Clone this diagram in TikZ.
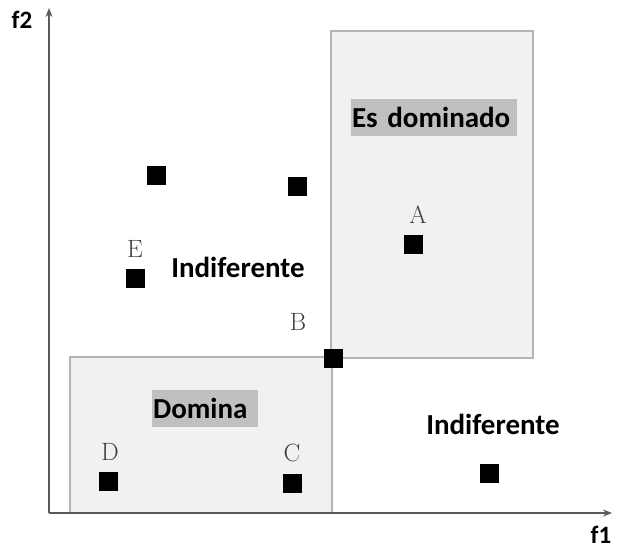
\documentclass[tikz,border=0pt]{standalone}
\usepackage{fontspec}
\setsansfont{Carlito}
\usetikzlibrary{positioning, arrows.meta}
\definecolor{regionfill}{HTML}{F1F1F1}
\definecolor{regionline}{HTML}{B4B4B4}
\definecolor{tagfill}{HTML}{C0C0C0}
\definecolor{axisline}{HTML}{5A5A5A}

\begin{document}
\begin{tikzpicture}[
  x=1pt, y=-1pt,
  every node/.style={font=\sffamily\bfseries\fontsize{29}{32}\selectfont},
  region/.style={draw=regionline, fill=regionfill, line width=1.2pt},
  point/.style={rectangle, fill=black, minimum size=19pt, inner sep=0pt},
  ptlabel/.style={font=\rmfamily\fontsize{25}{27}\selectfont, text=black!75, inner sep=0pt},
  tag/.style={fill=tagfill, minimum height=37pt, inner xsep=1pt, inner ysep=0pt, align=left},
  axislabel/.style={font=\sffamily\bfseries\fontsize{25}{29}\selectfont, inner sep=0pt},
  arrow/.style={line width=1.6pt, draw=axisline, -{Stealth[length=9pt, width=7pt]}}
]
\useasboundingbox (0,0) rectangle (617,550);

% Regions
\draw[region] (331,31) rectangle (533,358);
\draw[region] (70,357) rectangle (332,513);

% Axes
\coordinate (o) at (49,513);
\coordinate (xend) at (612,513);
\coordinate (yend) at (49,8);
\draw[arrow] (o) -- (xend);
\draw[arrow] (o) -- (yend);
\node[axislabel] (f1) at (601,535) {f1};
\node[axislabel] (f2) at (22,20) {f2};

% Region labels
\node[tag, text width=164pt] (dominado) at (434,117.5) {Es dominado};
\node[tag, text width=104pt] (domina) at (205,408) {Domina};
\node (indif1) at (238,267) {Indiferente};
\node (indif2) at (493,424) {Indiferente};

% Points
\node[point] (a) at (413,244) {};
\node[point] (b) at (333,358) {};
\node[point] (c) at (292,483) {};
\node[point] (d) at (108,481) {};
\node[point] (e) at (135,278) {};
\node[point] (p1) at (156,175) {};
\node[point] (p2) at (297,186) {};
\node[point] (p3) at (489,473) {};

% Point labels
\node[ptlabel, above=11pt of a, xshift=5pt] (la) {A};
\node[ptlabel] (lb) at (298,322) {B};
\node[ptlabel, above=11pt of c] (lc) {C};
\node[ptlabel, above=11pt of d, xshift=2pt] (ld) {D};
\node[ptlabel, above=11pt of e] (le) {E};

\end{tikzpicture}
\end{document}
